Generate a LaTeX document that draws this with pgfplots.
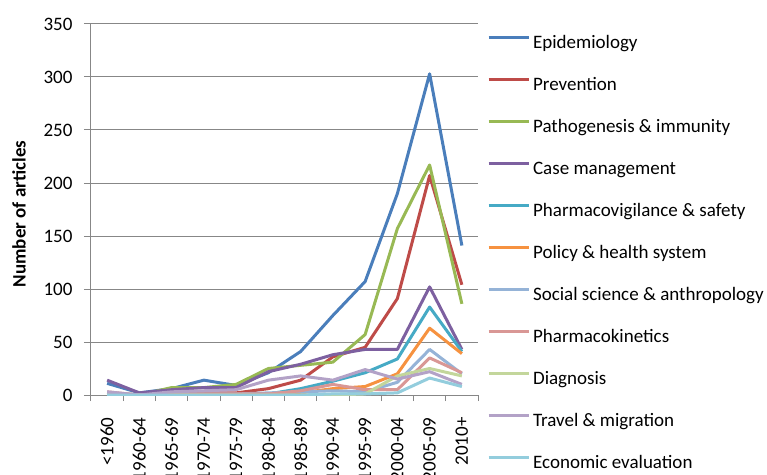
\documentclass[border=0pt]{standalone}
\usepackage{fontspec}
\setmainfont{Carlito}
\usepackage{pgfplots}
\usepackage{pgfplotstable}
\pgfplotsset{compat=1.18}
\definecolor{cEpi}{HTML}{4A7EBB}
\definecolor{cPrev}{HTML}{BE4B48}
\definecolor{cPath}{HTML}{98B954}
\definecolor{cCase}{HTML}{7D60A0}
\definecolor{cPV}{HTML}{46AAC5}
\definecolor{cPol}{HTML}{F69240}
\definecolor{cSoc}{HTML}{95B3D7}
\definecolor{cPK}{HTML}{D99795}
\definecolor{cDia}{HTML}{C3D69B}
\definecolor{cTra}{HTML}{B3A2C7}
\definecolor{cEco}{HTML}{93CDDD}
\definecolor{cGrid}{HTML}{878787}
\pgfplotstableread{
x Epi Prev Path Case PV Pol Soc PK Dia Tra Eco
0 11 1 2 14 0 0 1 3 0 3 0
1 2 0 0 2 0 0 0 0 0 0 0
2 6 1 7 5 0 0 1 1 0 3 0
3 14 2 7 7 0 0 1 1 0 4 0
4 9 2 10 7 0 0 1 1 0 5 0
5 21 6 25 22 1 0 2 1 0 14 0
6 41 14 28 29 6 2 3 4 0 18 0
7 75 36 31 38 13 6 4 10 0 14 1
8 107 45 57 43 21 8 3 5 1 24 1
9 190 91 157 43 34 20 12 5 18 15 2
10 303 207 217 102 83 63 43 35 25 22 16
11 141 104 86 43 41 39 20 21 18 10 8
}\data
\begin{document}
\begin{tikzpicture}
\begin{axis}[
  scale only axis, width=387pt, height=371pt,
  xmin=-0.5, xmax=11.5, ymin=0, ymax=350,
  ytick={0,50,...,350},
  xtick={0,...,11},
  xticklabels={<1960,1960-64,1965-69,1970-74,1975-79,1980-84,1985-89,1990-94,1995-99,2000-04,2005-09,2010+},
  minor xtick={-0.5,0.5,...,11.5},
  axis lines*=left,
  axis line style={draw=cGrid, line width=1pt},
  tick align=outside,
  major tick length=7pt, minor tick length=6pt,
  major x tick style={draw=none},
  minor x tick style={draw=cGrid, line width=1pt},
  major y tick style={draw=cGrid, line width=1pt},
  ymajorgrids,
  major grid style={draw=cGrid, line width=1pt},
  tick label style={font=\fontsize{19}{21}\selectfont},
  /pgf/number format/assume math mode=true,
  yticklabel style={xshift=-8pt},
  xticklabel style={yshift=-12pt, rotate=90, anchor=east},
  ylabel={Number of articles},
  ylabel style={font=\fontsize{19}{21}\selectfont\bfseries, at={(axis description cs:-0.186,0.488)}, anchor=center},
  every axis plot/.append style={line width=3pt, line join=round, no markers},
  legend cell align=left,
  legend image code/.code={\draw[#1, line width=3pt] (0pt,6pt) -- (40pt,6pt);},
  legend style={at={(1.023,0.970)}, anchor=north west, draw=none, fill=none,
    inner sep=0pt, row sep=25pt, column sep=3pt,
    font=\fontsize{19}{21}\selectfont,
    nodes={inner sep=0pt, text height=13pt, text depth=4pt}},
]
\addplot[cEpi] table[x=x,y=Epi] {\data};
\addlegendentry{Epidemiology}
\addplot[cPrev] table[x=x,y=Prev] {\data};
\addlegendentry{Prevention}
\addplot[cPath] table[x=x,y=Path] {\data};
\addlegendentry{Pathogenesis \& immunity}
\addplot[cCase] table[x=x,y=Case] {\data};
\addlegendentry{Case management}
\addplot[cPV] table[x=x,y=PV] {\data};
\addlegendentry{Pharmacovigilance \& safety}
\addplot[cPol] table[x=x,y=Pol] {\data};
\addlegendentry{Policy \& health system}
\addplot[cSoc] table[x=x,y=Soc] {\data};
\addlegendentry{Social science \& anthropology}
\addplot[cPK] table[x=x,y=PK] {\data};
\addlegendentry{Pharmacokinetics}
\addplot[cDia] table[x=x,y=Dia] {\data};
\addlegendentry{Diagnosis}
\addplot[cTra] table[x=x,y=Tra] {\data};
\addlegendentry{Travel \& migration}
\addplot[cEco] table[x=x,y=Eco] {\data};
\addlegendentry{Economic evaluation}
\end{axis}
\pgfresetboundingbox
\path[use as bounding box] (-91pt,-79pt) rectangle (676pt,395pt);
\end{tikzpicture}
\end{document}
